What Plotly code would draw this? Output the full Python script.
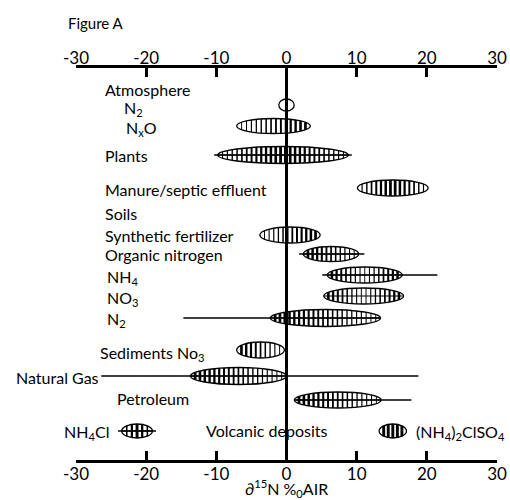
import numpy as np
import plotly.graph_objects as go

# ---- data (delta 15N, per mil vs AIR) ----
sources = ["N2 (atmosphere)", "NxO", "Plants", "Manure/septic effluent",
           "Synthetic fertilizer", "Organic nitrogen", "NH4", "NO3", "N2 (soils)",
           "Sediments NO3", "Natural Gas", "Petroleum", "NH4Cl", "(NH4)2ClSO4"]
low = [-1.1, -7.1, -9.8, 10.1, -3.8, 2.4, 5.8, 5.3, -2.3, -7.1, -13.7, 1.1, -23.5, 13.2]
high = [1.1, 3.4, 8.8, 20.2, 4.8, 10.3, 16.5, 16.7, 13.4, -0.3, 0.0, 13.5, -19.1, 17.1]
range_low = [None, None, -10.3, None, None, 1.8, 5.1, None, -14.7, None, -26.4, 1.1, -24.0, None]
range_high = [None, None, 9.3, None, None, 11.1, 21.5, None, 13.4, None, 18.8, 17.8, -18.6, None]

# ---- layout / style (not data) ----
row_y = [105, 126, 155, 188, 235, 254, 275, 296, 318, 350, 376, 400, 431, 431]
half_h = [6, 7.5, 8.5, 8, 8, 7.5, 8, 8, 8.5, 8, 8.5, 8, 7, 7]
cross = [False, False, True, False, False, True, True, True, True, False, True, True, True, False]
shade = ["none", "right", "mid", "mid", "right", "left", "ends", "ends", "left",
         "left", "left", "left", "mid", "full"]

FONT = "Lato"
fig = go.Figure()
shapes = []
SP = 0.68

for lo, hi, cy, b, cr, sh, rl, rh in zip(low, high, row_y, half_h, cross, shade, range_low, range_high):
    cx = (lo + hi) / 2
    a = (hi - lo) / 2
    if rl is not None:
        shapes.append(dict(type="line", xref="x", yref="y", x0=rl, x1=rh, y0=cy, y1=cy,
                           line=dict(color="black", width=1.5)))
    if cr:
        shapes.append(dict(type="line", xref="x", yref="y", x0=lo, x1=hi, y0=cy, y1=cy,
                           line=dict(color="black", width=1.2)))
    if sh != "none":
        n = max(2, int(round(2 * a / SP)))
        step = 2 * a / n
        for k in range(1, n):
            x = lo + k * step
            t = (x - cx) / a
            h = b * np.sqrt(max(0.0, 1 - t * t))
            if sh == "right":
                w = ((t + 1) / 2) ** 1.3
            elif sh == "left":
                w = ((1 - t) / 2) ** 1.3
            elif sh == "mid":
                w = 1 - abs(t)
            elif sh == "ends":
                w = abs(t) ** 1.3
            else:
                w = 1.0
            shapes.append(dict(type="line", xref="x", yref="y", x0=x, x1=x, y0=cy - h, y1=cy + h,
                               line=dict(color="black", width=0.9 + 2.0 * w)))
    shapes.append(dict(type="circle", xref="x", yref="y", x0=lo, x1=hi, y0=cy - b, y1=cy + b,
                       line=dict(color="black", width=1.3)))

shapes.append(dict(type="line", xref="x", yref="y", x0=0, x1=0, y0=68, y1=460,
                   line=dict(color="black", width=3)))

fig.add_trace(go.Scatter(x=[-30, 30], y=[460, 460], mode="markers", marker=dict(opacity=0),
                         hoverinfo="skip", showlegend=False))
fig.add_trace(go.Scatter(x=[-30, 30], y=[460, 460], mode="markers", marker=dict(opacity=0),
                         hoverinfo="skip", showlegend=False, xaxis="x2"))

labels = [
    ("Atmosphere", -26.2, 89, "left"),
    ("N<sub>2</sub>", -23.4, 108, "left"),
    ("N<sub>x</sub>O", -23.2, 128, "left"),
    ("Plants", -26.2, 155, "left"),
    ("Manure/septic effluent", -26.2, 189, "left"),
    ("Soils", -26.2, 213, "left"),
    ("Synthetic fertilizer", -26.2, 235, "left"),
    ("Organic nitrogen", -26.2, 254, "left"),
    ("NH<sub>4</sub>", -25.9, 277, "left"),
    ("NO<sub>3</sub>", -25.9, 298, "left"),
    ("N<sub>2</sub>", -25.9, 319, "left"),
    ("Sediments No<sub>3</sub>", -26.8, 353, "left"),
    ("Natural Gas", -26.5, 377, "right"),
    ("Petroleum", -24.4, 398, "left"),
    ("Volcanic deposits", -11.7, 430, "left"),
    ("(NH<sub>4</sub>)<sub>2</sub>ClSO<sub>4</sub>", 18.2, 432, "left"),
]
annotations = []
for txt, x, y, anc in labels:
    annotations.append(dict(text=txt, x=x, y=y, xref="x", yref="y", xanchor=anc, yanchor="middle",
                            showarrow=False, font=dict(family=FONT, size=16, color="black")))
paper_labels = [
    ("NH<sub>4</sub>Cl", -0.033, 0.071, "left", 16),
    ("Figure A", -0.024, 1.115, "left", 15),
    ("∂<sup>15</sup>N %<sub>0</sub>AIR", 0.501, -0.073, "center", 16),
]
for txt, x, y, anc, sz in paper_labels:
    annotations.append(dict(text=txt, x=x, y=y, xref="paper", yref="paper", xanchor=anc,
                            yanchor="middle", showarrow=False,
                            font=dict(family=FONT, size=sz, color="black")))

ticks = [-30, -20, -10, 0, 10, 20, 30]
axis_common = dict(range=[-30, 30], tickvals=ticks, ticktext=[str(t) for t in ticks],
                   ticks="inside", ticklen=9, tickwidth=3, tickcolor="black",
                   showline=True, linewidth=3, linecolor="black", showgrid=False, zeroline=False,
                   tickfont=dict(family=FONT, size=17, color="black"), fixedrange=True,
                   automargin=False)

fig.update_layout(
    width=510, height=500, autosize=False,
    margin=dict(l=76, r=13, t=68, b=40, autoexpand=False),
    paper_bgcolor="white", plot_bgcolor="white",
    xaxis=dict(**axis_common, side="bottom", anchor="y", ticklabelstandoff=-3),
    xaxis2=dict(**axis_common, side="top", overlaying="x", anchor="y", ticklabelstandoff=-6),
    yaxis=dict(range=[460, 68], visible=False, fixedrange=True),
    shapes=shapes, annotations=annotations, showlegend=False,
)

fig.write_html("out.html", config={"displayModeBar": False},
               post_script="document.body.style.margin='0';document.body.style.overflow='hidden';")
